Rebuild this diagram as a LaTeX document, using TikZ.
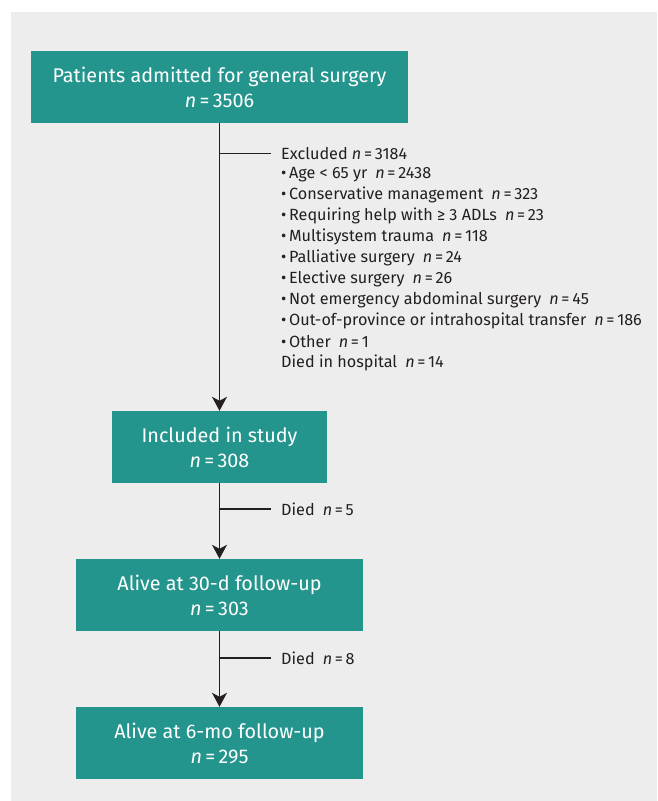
\documentclass[tikz,border=0pt]{standalone}
\usepackage{fontspec}
\setmainfont{Fira Sans}
\usetikzlibrary{arrows.meta, positioning}
\definecolor{flowteal}{HTML}{24958D}
\definecolor{panelgray}{HTML}{EDEDED}
\definecolor{inkdark}{HTML}{231F20}
\newcommand{\nn}[1]{\textit{n}\,=\,#1}

\begin{document}
\begin{tikzpicture}[x=1pt, y=-1pt]
\tikzstyle{stage}=[fill=flowteal, text=white, font=\fontsize{19.8}{25}\selectfont, align=center, inner sep=0pt, minimum height=72pt]
\tikzstyle{note}=[text=inkdark, font=\fontsize{16.2}{21}\selectfont, inner xsep=10pt, inner ysep=0pt, anchor=west]
\tikzstyle{flow}=[draw=inkdark, line width=1.4pt, -{Stealth[length=14pt, width=15pt, inset=4pt]}]
\tikzstyle{branch}=[draw=inkdark, line width=1.4pt]

\useasboundingbox (0,0) rectangle (657,801);
\fill[panelgray] (11,12) rectangle (657,801);

% main boxes
\node[stage, minimum width=377pt] (admit) at (219.5,87) {Patients admitted for general surgery\\ \nn{3506}};
\node[stage, minimum width=215pt] (incl) at (219.5,447) {Included in study\\ \nn{308}};
\node[stage, minimum width=287pt] (alive30) at (219.5,595) {Alive at 30-d follow-up\\ \nn{303}};
\node[stage, minimum width=287pt] (alive6) at (219.5,743) {Alive at 6-mo follow-up\\ \nn{295}};

% exclusions
\node[note] (excl) at (271,153.5) {Excluded \nn{3184}};
\foreach \txt [count=\i] in {
  {\textbullet\,Age < 65 yr\enspace\nn{2438}},
  {\textbullet\,Conservative management\enspace\nn{323}},
  {\textbullet\,Requiring help with ≥ 3 ADLs\enspace\nn{23}},
  {\textbullet\,Multisystem trauma\enspace\nn{118}},
  {\textbullet\,Palliative surgery\enspace\nn{24}},
  {\textbullet\,Elective surgery\enspace\nn{26}},
  {\textbullet\,Not emergency abdominal surgery\enspace\nn{45}},
  {\textbullet\,Out-of-province or intrahospital transfer\enspace\nn{186}},
  {\textbullet\,Other\enspace\nn{1}},
  {Died in hospital\enspace\nn{14}}}
  \node[note] (r\i) at (271,153.5+20.9*\i) {\txt};

\node[note] (died1) at (271,509) {Died\enspace\nn{5}};
\node[note] (died2) at (271,658) {Died\enspace\nn{8}};

% connectors
\draw[flow] (admit.south) -- (incl.north);
\draw[flow] (incl.south) -- (alive30.north);
\draw[flow] (alive30.south) -- (alive6.north);
\draw[branch] (admit.south |- excl.west) -- (excl.west);
\draw[branch] (incl.south |- died1.west) -- (died1.west);
\draw[branch] (alive30.south |- died2.west) -- (died2.west);
\end{tikzpicture}
\end{document}
